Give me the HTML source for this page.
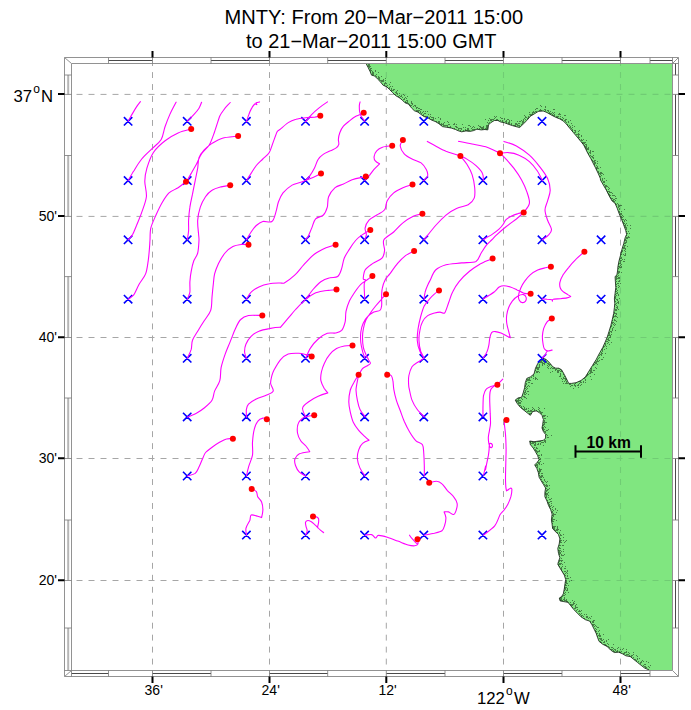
<!DOCTYPE html><html><head><meta charset="utf-8"><title>MNTY trajectories</title>
<style>html,body{margin:0;padding:0;background:#fff}body{width:691px;height:710px;overflow:hidden}svg{display:block}text{font-family:"Liberation Sans",sans-serif;fill:#000}</style></head><body>
<svg width="691" height="710" viewBox="0 0 691 710">
<rect width="691" height="710" fill="#fff"/>
<defs><clipPath id="lc"><path d="M366.1 63.5 L366.1 63.6 L368 67.2 L370.1 71.6 L371.6 75.2 L374.5 75.9 L377.4 78.8 L380.3 81.7 L383.2 85.3 L386.8 86.8 L389.7 89.7 L392.6 92.6 L395.5 95.5 L399.1 97.6 L402 99.8 L404.9 102.7 L408.5 104.1 L411.4 107.8 L414.3 110.7 L417.9 112.1 L420.8 114.3 L423.7 116.4 L428 117.9 L431.6 120.1 L435.3 121.5 L438.9 123.7 L442.5 126.6 L446.8 127.3 L451.2 128 L455.5 129.5 L458.1 130.7 L461.7 131.8 L466 130.9 L469.7 131.4 L473.3 130.7 L476.9 129.2 L481.2 129.9 L484.9 129.5 L487.8 129.9 L488.5 124.9 L490.7 122.7 L494.3 120.5 L497.9 120.5 L500.8 122 L504.4 122.7 L508 124.1 L512.4 125.6 L516 126.6 L519.6 127.5 L523.2 124.1 L526.8 120.5 L530.4 116.2 L534.1 114 L537.7 111.8 L538.8 111.3 L543.2 111 L546.8 112.4 L551.1 114.9 L555.5 117.2 L559.8 118.9 L563.4 121.1 L566.3 124 L569.9 128.4 L573.5 132.7 L577.2 137 L580.8 141.4 L583.7 145 L585.8 149.3 L588 153.7 L590.9 158.7 L593.1 163.1 L595.3 167.4 L598.1 173.2 L600.3 178.3 L600.5 180 L603.4 185.1 L606.3 190.1 L609.2 195.9 L612.1 201 L615 203.2 L617.2 208.2 L619.3 214 L621.5 219.1 L623.7 224.9 L625.8 230.7 L626.6 234.3 L625.1 237.9 L623.7 243.7 L621.9 249.5 L620.5 255.3 L619 261 L617.9 266.8 L617.7 270 L616.9 275.1 L615.1 276.5 L615.4 281.6 L615.8 287.4 L615.1 293.2 L614.4 298.9 L614.8 303.3 L614.4 307.6 L613.7 313.4 L612.2 319.9 L610.8 325.7 L609 331.5 L607.2 337.3 L605 342.4 L602.8 347.4 L599.9 352.5 L596.2 359.5 L592.6 365.3 L589 371.1 L585.4 376.9 L581 380.5 L576 382.7 L571.6 383.4 L568.7 383.4 L566.6 379.1 L564.4 374.7 L561.5 369.7 L558.6 368.2 L555.7 368.2 L552.8 366.8 L549.9 363.2 L546.3 359.5 L542.7 358.1 L539.8 360.3 L537.6 363.9 L535.5 368.2 L534 374 L530.4 376.9 L526.8 378.4 L525.3 382.7 L524.6 387.8 L523.2 392.8 L521.7 397.2 L518.1 397.9 L515.2 400.1 L517.4 403.7 L520.3 407.3 L523.9 410.2 L527.5 413.1 L530.4 415.3 L532.6 411.6 L536.2 410.9 L539.1 412.4 L542 415.3 L543.4 419.6 L542.7 424.3 L542 428 L543.4 431.6 L545.6 434.5 L545.6 438.1 L543.4 440.3 L539.1 441 L534 441.7 L529.7 441 L530.4 444.6 L533.3 448.2 L535.5 451.8 L537.6 455.5 L539.1 459.8 L536.9 462.7 L534.7 464.9 L536.9 468.5 L538.4 472.8 L539.1 477.2 L541.2 480.8 L543.4 484.4 L545.6 488 L544.9 492.4 L544.9 496.7 L547 501 L548.5 505.4 L550.7 509.7 L552.1 514.1 L551.4 520 L552 523.7 L552.7 528.8 L555.6 531.7 L558.5 534.6 L559.9 538.9 L559.2 544 L557.8 548.4 L558.5 553.4 L559.9 557.8 L558.5 561.4 L557.8 564.3 L559.9 567.9 L562.1 571.5 L564.3 575.1 L565.7 579.5 L565 583.8 L564.3 588.9 L563.3 593.9 L561.4 596.8 L559.3 598 L560.1 600.9 L563.7 601.6 L568 602.3 L570.9 605.9 L573.8 609.5 L577.4 613.2 L581 616.8 L585.4 619.7 L589.7 621.1 L591.9 624.7 L594.1 629.1 L596.2 633.4 L597.7 637.8 L599.1 641.4 L602.8 644.3 L607.1 646.4 L610.7 650.1 L614.3 652.5 L618.7 652.2 L622.3 653.7 L625.9 655.8 L630.3 656.6 L633.9 659.5 L637.5 662.4 L641.1 665.3 L644.7 668.1 L649.1 669.9 L650.6 670.5 L672.5 670.5 L672.5 63.5Z"/></clipPath><clipPath id="pc"><rect x="71.5" y="63.5" width="601" height="607"/></clipPath></defs>
<path d="M152.5 676.5 V57.5M269.5 676.5 V57.5M386.3 676.5 V57.5M503.5 676.5 V57.5M620.5 676.5 V57.5" fill="none" stroke="#a6a6a6" stroke-width="1" stroke-dasharray="5.9 6.07"/><path d="M64.5 94.4 H678.5M64.5 216.4 H678.5M64.5 337.5 H678.5M64.5 458.5 H678.5M64.5 580.5 H678.5" fill="none" stroke="#a6a6a6" stroke-width="1" stroke-dasharray="6 6"/>
<path d="M366.1 63.5 L366.1 63.6 L368 67.2 L370.1 71.6 L371.6 75.2 L374.5 75.9 L377.4 78.8 L380.3 81.7 L383.2 85.3 L386.8 86.8 L389.7 89.7 L392.6 92.6 L395.5 95.5 L399.1 97.6 L402 99.8 L404.9 102.7 L408.5 104.1 L411.4 107.8 L414.3 110.7 L417.9 112.1 L420.8 114.3 L423.7 116.4 L428 117.9 L431.6 120.1 L435.3 121.5 L438.9 123.7 L442.5 126.6 L446.8 127.3 L451.2 128 L455.5 129.5 L458.1 130.7 L461.7 131.8 L466 130.9 L469.7 131.4 L473.3 130.7 L476.9 129.2 L481.2 129.9 L484.9 129.5 L487.8 129.9 L488.5 124.9 L490.7 122.7 L494.3 120.5 L497.9 120.5 L500.8 122 L504.4 122.7 L508 124.1 L512.4 125.6 L516 126.6 L519.6 127.5 L523.2 124.1 L526.8 120.5 L530.4 116.2 L534.1 114 L537.7 111.8 L538.8 111.3 L543.2 111 L546.8 112.4 L551.1 114.9 L555.5 117.2 L559.8 118.9 L563.4 121.1 L566.3 124 L569.9 128.4 L573.5 132.7 L577.2 137 L580.8 141.4 L583.7 145 L585.8 149.3 L588 153.7 L590.9 158.7 L593.1 163.1 L595.3 167.4 L598.1 173.2 L600.3 178.3 L600.5 180 L603.4 185.1 L606.3 190.1 L609.2 195.9 L612.1 201 L615 203.2 L617.2 208.2 L619.3 214 L621.5 219.1 L623.7 224.9 L625.8 230.7 L626.6 234.3 L625.1 237.9 L623.7 243.7 L621.9 249.5 L620.5 255.3 L619 261 L617.9 266.8 L617.7 270 L616.9 275.1 L615.1 276.5 L615.4 281.6 L615.8 287.4 L615.1 293.2 L614.4 298.9 L614.8 303.3 L614.4 307.6 L613.7 313.4 L612.2 319.9 L610.8 325.7 L609 331.5 L607.2 337.3 L605 342.4 L602.8 347.4 L599.9 352.5 L596.2 359.5 L592.6 365.3 L589 371.1 L585.4 376.9 L581 380.5 L576 382.7 L571.6 383.4 L568.7 383.4 L566.6 379.1 L564.4 374.7 L561.5 369.7 L558.6 368.2 L555.7 368.2 L552.8 366.8 L549.9 363.2 L546.3 359.5 L542.7 358.1 L539.8 360.3 L537.6 363.9 L535.5 368.2 L534 374 L530.4 376.9 L526.8 378.4 L525.3 382.7 L524.6 387.8 L523.2 392.8 L521.7 397.2 L518.1 397.9 L515.2 400.1 L517.4 403.7 L520.3 407.3 L523.9 410.2 L527.5 413.1 L530.4 415.3 L532.6 411.6 L536.2 410.9 L539.1 412.4 L542 415.3 L543.4 419.6 L542.7 424.3 L542 428 L543.4 431.6 L545.6 434.5 L545.6 438.1 L543.4 440.3 L539.1 441 L534 441.7 L529.7 441 L530.4 444.6 L533.3 448.2 L535.5 451.8 L537.6 455.5 L539.1 459.8 L536.9 462.7 L534.7 464.9 L536.9 468.5 L538.4 472.8 L539.1 477.2 L541.2 480.8 L543.4 484.4 L545.6 488 L544.9 492.4 L544.9 496.7 L547 501 L548.5 505.4 L550.7 509.7 L552.1 514.1 L551.4 520 L552 523.7 L552.7 528.8 L555.6 531.7 L558.5 534.6 L559.9 538.9 L559.2 544 L557.8 548.4 L558.5 553.4 L559.9 557.8 L558.5 561.4 L557.8 564.3 L559.9 567.9 L562.1 571.5 L564.3 575.1 L565.7 579.5 L565 583.8 L564.3 588.9 L563.3 593.9 L561.4 596.8 L559.3 598 L560.1 600.9 L563.7 601.6 L568 602.3 L570.9 605.9 L573.8 609.5 L577.4 613.2 L581 616.8 L585.4 619.7 L589.7 621.1 L591.9 624.7 L594.1 629.1 L596.2 633.4 L597.7 637.8 L599.1 641.4 L602.8 644.3 L607.1 646.4 L610.7 650.1 L614.3 652.5 L618.7 652.2 L622.3 653.7 L625.9 655.8 L630.3 656.6 L633.9 659.5 L637.5 662.4 L641.1 665.3 L644.7 668.1 L649.1 669.9 L650.6 670.5 L672.5 670.5 L672.5 63.5Z" fill="#80e680"/>
<path d="M152.5 676.5 V57.5M269.5 676.5 V57.5M386.3 676.5 V57.5M503.5 676.5 V57.5M620.5 676.5 V57.5" fill="none" stroke="#70cc74" stroke-width="1.1" stroke-dasharray="5.9 6.07" clip-path="url(#lc)"/><path d="M64.5 94.4 H678.5M64.5 216.4 H678.5M64.5 337.5 H678.5M64.5 458.5 H678.5M64.5 580.5 H678.5" fill="none" stroke="#70cc74" stroke-width="1.1" stroke-dasharray="6 6" clip-path="url(#lc)"/>
<path d="M366.1 63.6 L368 67.2 L370.1 71.6 L371.6 75.2 L374.5 75.9 L377.4 78.8 L380.3 81.7 L383.2 85.3 L386.8 86.8 L389.7 89.7 L392.6 92.6 L395.5 95.5 L399.1 97.6 L402 99.8 L404.9 102.7 L408.5 104.1 L411.4 107.8 L414.3 110.7 L417.9 112.1 L420.8 114.3 L423.7 116.4 L428 117.9 L431.6 120.1 L435.3 121.5 L438.9 123.7 L442.5 126.6 L446.8 127.3 L451.2 128 L455.5 129.5 L458.1 130.7 L461.7 131.8 L466 130.9 L469.7 131.4 L473.3 130.7 L476.9 129.2 L481.2 129.9 L484.9 129.5 L487.8 129.9 L488.5 124.9 L490.7 122.7 L494.3 120.5 L497.9 120.5 L500.8 122 L504.4 122.7 L508 124.1 L512.4 125.6 L516 126.6 L519.6 127.5 L523.2 124.1 L526.8 120.5 L530.4 116.2 L534.1 114 L537.7 111.8 L538.8 111.3 L543.2 111 L546.8 112.4 L551.1 114.9 L555.5 117.2 L559.8 118.9 L563.4 121.1 L566.3 124 L569.9 128.4 L573.5 132.7 L577.2 137 L580.8 141.4 L583.7 145 L585.8 149.3 L588 153.7 L590.9 158.7 L593.1 163.1 L595.3 167.4 L598.1 173.2 L600.3 178.3 L600.5 180 L603.4 185.1 L606.3 190.1 L609.2 195.9 L612.1 201 L615 203.2 L617.2 208.2 L619.3 214 L621.5 219.1 L623.7 224.9 L625.8 230.7 L626.6 234.3 L625.1 237.9 L623.7 243.7 L621.9 249.5 L620.5 255.3 L619 261 L617.9 266.8 L617.7 270 L616.9 275.1 L615.1 276.5 L615.4 281.6 L615.8 287.4 L615.1 293.2 L614.4 298.9 L614.8 303.3 L614.4 307.6 L613.7 313.4 L612.2 319.9 L610.8 325.7 L609 331.5 L607.2 337.3 L605 342.4 L602.8 347.4 L599.9 352.5 L596.2 359.5 L592.6 365.3 L589 371.1 L585.4 376.9 L581 380.5 L576 382.7 L571.6 383.4 L568.7 383.4 L566.6 379.1 L564.4 374.7 L561.5 369.7 L558.6 368.2 L555.7 368.2 L552.8 366.8 L549.9 363.2 L546.3 359.5 L542.7 358.1 L539.8 360.3 L537.6 363.9 L535.5 368.2 L534 374 L530.4 376.9 L526.8 378.4 L525.3 382.7 L524.6 387.8 L523.2 392.8 L521.7 397.2 L518.1 397.9 L515.2 400.1 L517.4 403.7 L520.3 407.3 L523.9 410.2 L527.5 413.1 L530.4 415.3 L532.6 411.6 L536.2 410.9 L539.1 412.4 L542 415.3 L543.4 419.6 L542.7 424.3 L542 428 L543.4 431.6 L545.6 434.5 L545.6 438.1 L543.4 440.3 L539.1 441 L534 441.7 L529.7 441 L530.4 444.6 L533.3 448.2 L535.5 451.8 L537.6 455.5 L539.1 459.8 L536.9 462.7 L534.7 464.9 L536.9 468.5 L538.4 472.8 L539.1 477.2 L541.2 480.8 L543.4 484.4 L545.6 488 L544.9 492.4 L544.9 496.7 L547 501 L548.5 505.4 L550.7 509.7 L552.1 514.1 L551.4 520 L552 523.7 L552.7 528.8 L555.6 531.7 L558.5 534.6 L559.9 538.9 L559.2 544 L557.8 548.4 L558.5 553.4 L559.9 557.8 L558.5 561.4 L557.8 564.3 L559.9 567.9 L562.1 571.5 L564.3 575.1 L565.7 579.5 L565 583.8 L564.3 588.9 L563.3 593.9 L561.4 596.8 L559.3 598 L560.1 600.9 L563.7 601.6 L568 602.3 L570.9 605.9 L573.8 609.5 L577.4 613.2 L581 616.8 L585.4 619.7 L589.7 621.1 L591.9 624.7 L594.1 629.1 L596.2 633.4 L597.7 637.8 L599.1 641.4 L602.8 644.3 L607.1 646.4 L610.7 650.1 L614.3 652.5 L618.7 652.2 L622.3 653.7 L625.9 655.8 L630.3 656.6 L633.9 659.5 L637.5 662.4 L641.1 665.3 L644.7 668.1 L649.1 669.9" fill="none" stroke="#142214" stroke-width="0.85" stroke-linejoin="round"/>
<path d="M367 63.5h1M368 64.5h1M368 65.5h1M368 66.5h1M369 64.5h1M369 65.5h1M369 66.5h1M369 67.5h1M370 66.5h1M370 68.5h1M370 69.5h1M370 70.5h1M370 71.5h1M371 68.5h1M371 70.5h1M372 71.5h1M372 72.5h1M372 73.5h1M372 74.5h1M373 72.5h1M373 73.5h1M373 74.5h1M375 70.5h1M375 71.5h1M375 75.5h1M376 74.5h1M376 76.5h1M378 72.5h1M378 76.5h1M378 77.5h1M378 78.5h1M379 77.5h1M379 78.5h1M379 79.5h1M380 80.5h1M381 76.5h1M381 80.5h1M381 81.5h1M382 80.5h1M382 81.5h1M383 79.5h1M383 80.5h1M383 81.5h1M384 83.5h1M384 84.5h1M384 85.5h1M385 78.5h1M385 80.5h1M385 82.5h1M385 83.5h1M386 83.5h1M386 86.5h1M387 85.5h1M389 84.5h1M389 87.5h1M389 88.5h1M390 82.5h1M390 86.5h1M391 88.5h1M391 89.5h1M391 90.5h1M392 86.5h1M392 90.5h1M393 89.5h1M393 90.5h1M394 89.5h1M395 92.5h1M395 94.5h1M396 91.5h1M396 92.5h1M396 93.5h1M397 90.5h1M397 93.5h1M397 94.5h1M398 96.5h1M399 93.5h1M399 95.5h1M399 97.5h1M400 96.5h1M401 95.5h1M401 96.5h1M402 97.5h1M403 94.5h1M403 99.5h1M404 95.5h1M404 98.5h1M404 99.5h1M405 97.5h1M405 101.5h1M405 102.5h1M406 98.5h1M406 100.5h1M406 102.5h1M407 96.5h1M407 100.5h1M407 101.5h1M407 102.5h1M408 103.5h1M409 104.5h1M410 105.5h1M411 101.5h1M411 102.5h1M411 103.5h1M411 105.5h1M412 103.5h1M412 104.5h1M413 106.5h1M414 105.5h1M415 105.5h1M415 106.5h1M416 107.5h1M416 108.5h1M416 110.5h1M417 107.5h1M417 110.5h1M417 111.5h1M418 108.5h1M418 110.5h1M418 111.5h1M419 108.5h1M419 110.5h1M420 109.5h1M420 111.5h1M420 112.5h1M421 109.5h1M421 113.5h1M422 112.5h1M423 111.5h1M423 114.5h1M423 115.5h1M424 113.5h1M425 111.5h1M425 113.5h1M425 116.5h1M426 116.5h1M427 111.5h1M427 116.5h1M428 114.5h1M429 117.5h1M429 118.5h1M430 114.5h1M430 116.5h1M431 117.5h1M431 119.5h1M432 117.5h1M432 119.5h1M433 117.5h1M433 118.5h1M433 119.5h1M435 118.5h1M435 121.5h1M436 121.5h1M438 117.5h1M438 121.5h1M438 122.5h1M439 121.5h1M439 122.5h1M439 123.5h1M440 118.5h1M440 119.5h1M440 124.5h1M441 123.5h1M441 124.5h1M441 125.5h1M442 124.5h1M443 123.5h1M443 124.5h1M443 125.5h1M444 122.5h1M444 125.5h1M445 125.5h1M446 125.5h1M447 121.5h1M447 125.5h1M447 126.5h1M448 122.5h1M448 124.5h1M448 127.5h1M449 124.5h1M449 127.5h1M450 126.5h1M450 127.5h1M453 124.5h1M454 123.5h1M454 124.5h1M454 128.5h1M455 126.5h1M456 124.5h1M456 126.5h1M456 127.5h1M457 127.5h1M458 128.5h1M458 129.5h1M459 128.5h1M460 128.5h1M460 130.5h1M461 128.5h1M461 129.5h1M462 124.5h1M463 127.5h1M463 130.5h1M465 127.5h1M465 129.5h1M465 130.5h1M466 130.5h1M467 128.5h1M467 129.5h1M467 130.5h1M468 125.5h1M468 128.5h1M468 129.5h1M468 130.5h1M469 125.5h1M469 130.5h1M470 126.5h1M471 128.5h1M472 127.5h1M472 129.5h1M473 126.5h1M473 129.5h1M474 127.5h1M474 129.5h1M477 128.5h1M478 125.5h1M479 126.5h1M479 128.5h1M480 126.5h1M480 127.5h1M481 127.5h1M481 128.5h1M482 127.5h1M482 128.5h1M482 129.5h1M483 126.5h1M483 127.5h1M483 128.5h1M484 129.5h1M485 119.5h1M485 128.5h1M486 125.5h1M486 126.5h1M486 127.5h1M486 128.5h1M486 129.5h1M487 122.5h1M487 125.5h1M487 126.5h1M487 127.5h1M487 128.5h1M488 120.5h1M488 123.5h1M489 118.5h1M489 122.5h1M490 119.5h1M490 120.5h1M491 119.5h1M491 120.5h1M492 119.5h1M493 119.5h1M494 116.5h1M494 118.5h1M495 117.5h1M496 116.5h1M496 119.5h1M497 119.5h1M498 120.5h1M500 117.5h1M500 120.5h1M501 118.5h1M502 118.5h1M502 120.5h1M502 121.5h1M504 118.5h1M504 119.5h1M505 121.5h1M506 120.5h1M506 121.5h1M506 122.5h1M507 119.5h1M508 119.5h1M508 122.5h1M508 123.5h1M509 120.5h1M509 121.5h1M509 122.5h1M509 123.5h1M511 120.5h1M511 123.5h1M511 124.5h1M513 125.5h1M514 125.5h1M515 123.5h1M515 124.5h1M515 125.5h1M516 123.5h1M516 124.5h1M516 400.5h1M516 401.5h1M517 121.5h1M517 124.5h1M517 125.5h1M517 400.5h1M517 401.5h1M518 123.5h1M518 125.5h1M518 398.5h1M518 399.5h1M518 400.5h1M518 401.5h1M518 402.5h1M518 403.5h1M519 121.5h1M519 123.5h1M519 125.5h1M519 126.5h1M519 398.5h1M519 400.5h1M519 402.5h1M519 403.5h1M519 405.5h1M520 121.5h1M520 400.5h1M520 402.5h1M520 403.5h1M520 405.5h1M521 120.5h1M521 124.5h1M521 398.5h1M521 401.5h1M521 406.5h1M521 407.5h1M522 121.5h1M522 122.5h1M522 123.5h1M522 395.5h1M522 399.5h1M522 408.5h1M523 119.5h1M523 120.5h1M523 121.5h1M523 122.5h1M523 396.5h1M523 406.5h1M523 409.5h1M524 115.5h1M524 118.5h1M524 392.5h1M524 393.5h1M524 394.5h1M524 396.5h1M524 397.5h1M524 407.5h1M524 408.5h1M524 409.5h1M525 116.5h1M525 117.5h1M525 119.5h1M525 385.5h1M525 386.5h1M525 388.5h1M525 390.5h1M525 391.5h1M525 392.5h1M525 394.5h1M525 397.5h1M525 409.5h1M526 117.5h1M526 381.5h1M526 383.5h1M526 384.5h1M526 387.5h1M526 389.5h1M526 393.5h1M526 398.5h1M526 408.5h1M526 409.5h1M527 118.5h1M527 379.5h1M527 380.5h1M527 386.5h1M527 388.5h1M527 391.5h1M527 411.5h1M528 116.5h1M528 117.5h1M528 379.5h1M528 380.5h1M528 382.5h1M528 385.5h1M528 391.5h1M528 394.5h1M528 408.5h1M528 410.5h1M528 411.5h1M529 112.5h1M529 114.5h1M529 378.5h1M529 379.5h1M529 380.5h1M529 382.5h1M529 386.5h1M529 411.5h1M529 413.5h1M529 414.5h1M530 114.5h1M530 115.5h1M530 380.5h1M530 410.5h1M530 411.5h1M530 413.5h1M530 441.5h1M530 442.5h1M530 444.5h1M531 114.5h1M531 377.5h1M531 383.5h1M531 410.5h1M531 411.5h1M531 413.5h1M531 441.5h1M531 443.5h1M532 112.5h1M532 113.5h1M532 114.5h1M532 383.5h1M532 407.5h1M532 409.5h1M532 411.5h1M532 440.5h1M532 441.5h1M532 442.5h1M532 443.5h1M532 448.5h1M533 111.5h1M533 112.5h1M533 375.5h1M533 376.5h1M533 378.5h1M533 408.5h1M533 442.5h1M533 443.5h1M533 448.5h1M534 112.5h1M534 409.5h1M534 410.5h1M534 442.5h1M534 444.5h1M534 445.5h1M534 447.5h1M535 109.5h1M535 111.5h1M535 370.5h1M535 377.5h1M535 378.5h1M535 379.5h1M535 442.5h1M535 443.5h1M535 444.5h1M535 445.5h1M535 449.5h1M535 450.5h1M535 465.5h1M536 108.5h1M536 111.5h1M536 367.5h1M536 368.5h1M536 371.5h1M536 372.5h1M536 378.5h1M536 410.5h1M536 447.5h1M536 448.5h1M536 450.5h1M536 451.5h1M536 453.5h1M536 464.5h1M536 465.5h1M537 108.5h1M537 367.5h1M537 368.5h1M537 369.5h1M537 371.5h1M537 372.5h1M537 379.5h1M537 441.5h1M537 444.5h1M537 448.5h1M537 451.5h1M537 452.5h1M537 462.5h1M537 464.5h1M537 465.5h1M537 466.5h1M537 467.5h1M538 367.5h1M538 368.5h1M538 369.5h1M538 371.5h1M538 407.5h1M538 409.5h1M538 441.5h1M538 443.5h1M538 444.5h1M538 451.5h1M538 455.5h1M538 462.5h1M538 463.5h1M538 471.5h1M539 110.5h1M539 362.5h1M539 364.5h1M539 365.5h1M539 366.5h1M539 367.5h1M539 372.5h1M539 408.5h1M539 410.5h1M539 411.5h1M539 441.5h1M539 450.5h1M539 451.5h1M539 455.5h1M539 457.5h1M539 459.5h1M539 462.5h1M539 463.5h1M539 464.5h1M539 468.5h1M539 469.5h1M539 470.5h1M539 471.5h1M539 472.5h1M539 473.5h1M539 475.5h1M540 105.5h1M540 109.5h1M540 110.5h1M540 361.5h1M540 362.5h1M540 411.5h1M540 412.5h1M540 441.5h1M540 443.5h1M540 444.5h1M540 458.5h1M540 459.5h1M540 461.5h1M540 469.5h1M540 470.5h1M540 471.5h1M540 476.5h1M540 477.5h1M541 106.5h1M541 110.5h1M541 360.5h1M541 361.5h1M541 362.5h1M541 412.5h1M541 413.5h1M541 442.5h1M541 454.5h1M541 455.5h1M541 464.5h1M541 469.5h1M541 473.5h1M541 475.5h1M541 476.5h1M541 477.5h1M541 479.5h1M542 359.5h1M542 360.5h1M542 362.5h1M542 363.5h1M542 364.5h1M542 365.5h1M542 412.5h1M542 427.5h1M542 428.5h1M542 442.5h1M542 473.5h1M542 475.5h1M542 476.5h1M542 481.5h1M543 358.5h1M543 361.5h1M543 363.5h1M543 415.5h1M543 416.5h1M543 422.5h1M543 424.5h1M543 425.5h1M543 427.5h1M543 428.5h1M543 429.5h1M543 430.5h1M543 442.5h1M543 445.5h1M543 463.5h1M543 477.5h1M543 482.5h1M544 109.5h1M544 361.5h1M544 362.5h1M544 363.5h1M544 364.5h1M544 408.5h1M544 415.5h1M544 416.5h1M544 418.5h1M544 420.5h1M544 421.5h1M544 422.5h1M544 423.5h1M544 424.5h1M544 426.5h1M544 429.5h1M544 431.5h1M544 440.5h1M544 441.5h1M544 479.5h1M544 480.5h1M544 484.5h1M545 106.5h1M545 107.5h1M545 109.5h1M545 110.5h1M545 359.5h1M545 360.5h1M545 362.5h1M545 415.5h1M545 418.5h1M545 422.5h1M545 427.5h1M545 431.5h1M545 432.5h1M545 440.5h1M545 441.5h1M545 442.5h1M545 481.5h1M545 485.5h1M545 492.5h1M545 493.5h1M545 494.5h1M545 497.5h1M546 112.5h1M546 361.5h1M546 362.5h1M546 422.5h1M546 430.5h1M546 434.5h1M546 482.5h1M546 484.5h1M546 485.5h1M546 486.5h1M546 488.5h1M546 490.5h1M546 491.5h1M546 493.5h1M546 494.5h1M546 495.5h1M546 496.5h1M546 497.5h1M547 110.5h1M547 363.5h1M547 365.5h1M547 367.5h1M547 416.5h1M547 430.5h1M547 435.5h1M547 437.5h1M547 481.5h1M547 485.5h1M547 486.5h1M547 489.5h1M547 490.5h1M547 493.5h1M547 494.5h1M547 500.5h1M548 110.5h1M548 111.5h1M548 363.5h1M548 364.5h1M548 366.5h1M548 368.5h1M548 429.5h1M548 437.5h1M548 489.5h1M548 492.5h1M548 495.5h1M548 497.5h1M548 502.5h1M548 503.5h1M549 112.5h1M549 113.5h1M549 364.5h1M549 365.5h1M549 485.5h1M549 488.5h1M549 499.5h1M549 502.5h1M549 504.5h1M549 505.5h1M549 506.5h1M550 111.5h1M550 113.5h1M550 364.5h1M550 368.5h1M550 372.5h1M550 499.5h1M550 501.5h1M550 506.5h1M550 508.5h1M551 113.5h1M551 367.5h1M551 435.5h1M551 498.5h1M551 501.5h1M551 503.5h1M551 505.5h1M552 112.5h1M552 114.5h1M552 368.5h1M552 371.5h1M552 507.5h1M552 509.5h1M552 511.5h1M552 512.5h1M552 515.5h1M552 517.5h1M552 518.5h1M552 519.5h1M552 520.5h1M552 521.5h1M552 523.5h1M552 527.5h1M553 109.5h1M553 113.5h1M553 115.5h1M553 368.5h1M553 506.5h1M553 510.5h1M553 513.5h1M553 514.5h1M553 515.5h1M553 516.5h1M553 519.5h1M553 521.5h1M553 526.5h1M553 527.5h1M553 528.5h1M554 109.5h1M554 112.5h1M554 114.5h1M554 115.5h1M554 368.5h1M554 514.5h1M554 519.5h1M554 526.5h1M554 527.5h1M554 528.5h1M554 529.5h1M555 369.5h1M555 370.5h1M555 508.5h1M555 509.5h1M555 514.5h1M555 526.5h1M555 530.5h1M555 531.5h1M556 116.5h1M556 369.5h1M556 512.5h1M556 520.5h1M556 529.5h1M556 530.5h1M557 116.5h1M557 117.5h1M557 370.5h1M557 371.5h1M557 372.5h1M557 510.5h1M557 526.5h1M557 527.5h1M557 528.5h1M557 529.5h1M557 530.5h1M557 532.5h1M558 114.5h1M558 116.5h1M558 368.5h1M558 370.5h1M558 371.5h1M558 372.5h1M558 529.5h1M558 550.5h1M558 562.5h1M558 564.5h1M559 113.5h1M559 114.5h1M559 370.5h1M559 376.5h1M559 532.5h1M559 533.5h1M559 545.5h1M559 547.5h1M559 548.5h1M559 550.5h1M559 551.5h1M559 552.5h1M559 553.5h1M559 554.5h1M559 560.5h1M559 561.5h1M559 563.5h1M559 564.5h1M559 566.5h1M560 114.5h1M560 116.5h1M560 118.5h1M560 369.5h1M560 371.5h1M560 373.5h1M560 374.5h1M560 375.5h1M560 376.5h1M560 530.5h1M560 534.5h1M560 535.5h1M560 538.5h1M560 540.5h1M560 541.5h1M560 542.5h1M560 545.5h1M560 548.5h1M560 550.5h1M560 552.5h1M560 553.5h1M560 560.5h1M560 563.5h1M560 564.5h1M560 597.5h1M560 598.5h1M560 599.5h1M560 600.5h1M561 119.5h1M561 370.5h1M561 371.5h1M561 378.5h1M561 535.5h1M561 540.5h1M561 542.5h1M561 551.5h1M561 554.5h1M561 555.5h1M561 558.5h1M561 560.5h1M561 561.5h1M561 563.5h1M561 567.5h1M561 568.5h1M561 569.5h1M561 597.5h1M561 598.5h1M561 599.5h1M561 600.5h1M562 117.5h1M562 119.5h1M562 379.5h1M562 381.5h1M562 545.5h1M562 555.5h1M562 560.5h1M562 564.5h1M562 566.5h1M562 571.5h1M562 596.5h1M562 600.5h1M563 118.5h1M563 374.5h1M563 377.5h1M563 378.5h1M563 383.5h1M563 534.5h1M563 537.5h1M563 540.5h1M563 545.5h1M563 549.5h1M563 551.5h1M563 555.5h1M563 573.5h1M563 595.5h1M563 599.5h1M563 601.5h1M564 115.5h1M564 120.5h1M564 376.5h1M564 378.5h1M564 381.5h1M564 542.5h1M564 554.5h1M564 562.5h1M564 568.5h1M564 571.5h1M564 574.5h1M564 588.5h1M564 590.5h1M564 593.5h1M564 595.5h1M564 597.5h1M564 598.5h1M564 599.5h1M564 600.5h1M565 115.5h1M565 119.5h1M565 120.5h1M565 121.5h1M565 378.5h1M565 379.5h1M565 380.5h1M565 383.5h1M565 541.5h1M565 566.5h1M565 568.5h1M565 571.5h1M565 573.5h1M565 575.5h1M565 582.5h1M565 584.5h1M565 585.5h1M565 587.5h1M565 588.5h1M565 589.5h1M565 592.5h1M565 594.5h1M565 600.5h1M566 119.5h1M566 122.5h1M566 379.5h1M566 381.5h1M566 382.5h1M566 383.5h1M566 540.5h1M566 572.5h1M566 578.5h1M566 580.5h1M566 581.5h1M566 582.5h1M566 583.5h1M566 585.5h1M566 587.5h1M566 590.5h1M566 599.5h1M566 600.5h1M566 601.5h1M567 124.5h1M567 383.5h1M567 570.5h1M567 571.5h1M567 573.5h1M567 575.5h1M567 576.5h1M567 578.5h1M567 583.5h1M567 588.5h1M567 589.5h1M567 590.5h1M567 601.5h1M568 121.5h1M568 122.5h1M568 126.5h1M568 578.5h1M568 585.5h1M568 592.5h1M568 602.5h1M569 125.5h1M569 384.5h1M569 581.5h1M570 120.5h1M570 126.5h1M570 127.5h1M570 384.5h1M570 386.5h1M570 577.5h1M570 602.5h1M570 604.5h1M571 123.5h1M571 128.5h1M571 385.5h1M571 580.5h1M571 604.5h1M571 605.5h1M572 125.5h1M572 127.5h1M572 129.5h1M572 130.5h1M572 385.5h1M572 600.5h1M572 604.5h1M572 605.5h1M572 607.5h1M573 388.5h1M573 602.5h1M573 603.5h1M573 604.5h1M574 126.5h1M574 130.5h1M574 132.5h1M574 384.5h1M574 385.5h1M574 601.5h1M574 603.5h1M574 608.5h1M575 130.5h1M575 131.5h1M575 132.5h1M575 383.5h1M575 385.5h1M575 386.5h1M575 605.5h1M575 606.5h1M575 607.5h1M575 608.5h1M576 134.5h1M576 604.5h1M576 607.5h1M576 610.5h1M577 134.5h1M577 385.5h1M577 607.5h1M577 609.5h1M578 131.5h1M578 133.5h1M578 134.5h1M578 135.5h1M578 136.5h1M578 137.5h1M578 384.5h1M578 385.5h1M578 387.5h1M578 611.5h1M579 130.5h1M579 134.5h1M579 137.5h1M579 139.5h1M579 381.5h1M579 383.5h1M579 610.5h1M579 611.5h1M579 613.5h1M580 381.5h1M580 382.5h1M580 385.5h1M580 611.5h1M580 614.5h1M581 135.5h1M581 136.5h1M581 139.5h1M581 140.5h1M581 382.5h1M581 384.5h1M581 610.5h1M581 613.5h1M581 615.5h1M581 616.5h1M582 140.5h1M582 142.5h1M582 143.5h1M582 615.5h1M583 139.5h1M583 142.5h1M583 143.5h1M583 381.5h1M583 382.5h1M583 616.5h1M584 142.5h1M584 143.5h1M584 145.5h1M584 378.5h1M584 614.5h1M584 618.5h1M585 142.5h1M585 144.5h1M585 146.5h1M585 147.5h1M585 377.5h1M585 379.5h1M585 380.5h1M585 382.5h1M586 140.5h1M586 144.5h1M586 145.5h1M586 146.5h1M586 147.5h1M586 148.5h1M586 149.5h1M586 375.5h1M586 376.5h1M586 614.5h1M586 616.5h1M586 617.5h1M587 148.5h1M587 149.5h1M587 374.5h1M587 375.5h1M587 616.5h1M587 617.5h1M588 147.5h1M588 148.5h1M588 149.5h1M588 153.5h1M588 374.5h1M588 618.5h1M589 152.5h1M589 373.5h1M589 617.5h1M590 150.5h1M590 151.5h1M590 152.5h1M590 153.5h1M590 155.5h1M590 370.5h1M590 371.5h1M590 372.5h1M590 373.5h1M590 376.5h1M590 618.5h1M590 621.5h1M591 156.5h1M591 159.5h1M591 368.5h1M591 369.5h1M591 370.5h1M591 371.5h1M591 372.5h1M591 379.5h1M591 616.5h1M592 151.5h1M592 156.5h1M592 157.5h1M592 160.5h1M592 372.5h1M592 621.5h1M592 622.5h1M592 624.5h1M593 151.5h1M593 155.5h1M593 157.5h1M593 158.5h1M593 161.5h1M593 364.5h1M593 365.5h1M593 370.5h1M593 620.5h1M593 621.5h1M593 622.5h1M593 624.5h1M593 625.5h1M594 160.5h1M594 161.5h1M594 162.5h1M594 163.5h1M594 164.5h1M594 362.5h1M594 364.5h1M594 370.5h1M594 374.5h1M594 620.5h1M594 624.5h1M594 626.5h1M595 160.5h1M595 162.5h1M595 163.5h1M595 362.5h1M595 363.5h1M595 367.5h1M595 625.5h1M595 628.5h1M595 630.5h1M595 631.5h1M596 165.5h1M596 167.5h1M596 168.5h1M596 169.5h1M596 361.5h1M596 362.5h1M596 363.5h1M596 368.5h1M596 626.5h1M596 629.5h1M596 631.5h1M596 633.5h1M597 161.5h1M597 163.5h1M597 166.5h1M597 167.5h1M597 168.5h1M597 359.5h1M597 360.5h1M597 361.5h1M597 364.5h1M597 627.5h1M597 633.5h1M597 636.5h1M598 168.5h1M598 171.5h1M598 172.5h1M598 358.5h1M598 361.5h1M598 627.5h1M598 631.5h1M598 635.5h1M599 173.5h1M599 355.5h1M599 357.5h1M599 360.5h1M599 630.5h1M599 633.5h1M599 634.5h1M599 635.5h1M599 636.5h1M599 638.5h1M600 167.5h1M600 172.5h1M600 173.5h1M600 174.5h1M600 176.5h1M600 354.5h1M600 635.5h1M600 636.5h1M600 638.5h1M600 639.5h1M600 641.5h1M601 172.5h1M601 173.5h1M601 175.5h1M601 352.5h1M601 353.5h1M601 354.5h1M601 355.5h1M601 359.5h1M601 638.5h1M601 639.5h1M601 640.5h1M601 642.5h1M602 173.5h1M602 178.5h1M602 179.5h1M602 180.5h1M602 348.5h1M602 349.5h1M602 350.5h1M602 351.5h1M602 353.5h1M602 359.5h1M602 640.5h1M603 174.5h1M603 181.5h1M603 182.5h1M603 346.5h1M603 347.5h1M603 357.5h1M603 634.5h1M603 639.5h1M603 642.5h1M604 178.5h1M604 181.5h1M604 182.5h1M604 184.5h1M604 346.5h1M604 349.5h1M604 641.5h1M604 642.5h1M604 644.5h1M605 185.5h1M605 186.5h1M605 187.5h1M605 343.5h1M605 344.5h1M605 345.5h1M605 353.5h1M605 644.5h1M605 645.5h1M606 180.5h1M606 185.5h1M606 186.5h1M606 189.5h1M606 341.5h1M606 346.5h1M606 348.5h1M606 640.5h1M606 641.5h1M606 645.5h1M607 186.5h1M607 191.5h1M607 339.5h1M607 341.5h1M607 343.5h1M607 643.5h1M607 646.5h1M608 187.5h1M608 189.5h1M608 191.5h1M608 193.5h1M608 335.5h1M608 338.5h1M608 339.5h1M608 340.5h1M608 342.5h1M608 639.5h1M608 644.5h1M608 646.5h1M609 188.5h1M609 191.5h1M609 192.5h1M609 194.5h1M609 195.5h1M609 332.5h1M609 333.5h1M609 334.5h1M609 335.5h1M609 337.5h1M609 340.5h1M609 344.5h1M609 647.5h1M610 192.5h1M610 195.5h1M610 197.5h1M610 327.5h1M610 331.5h1M610 335.5h1M610 336.5h1M610 337.5h1M610 649.5h1M611 192.5h1M611 198.5h1M611 325.5h1M611 326.5h1M611 331.5h1M611 332.5h1M611 334.5h1M611 342.5h1M611 647.5h1M611 649.5h1M612 193.5h1M612 195.5h1M612 198.5h1M612 200.5h1M612 320.5h1M612 322.5h1M612 323.5h1M612 328.5h1M612 329.5h1M612 330.5h1M612 647.5h1M612 649.5h1M613 195.5h1M613 199.5h1M613 200.5h1M613 201.5h1M613 314.5h1M613 315.5h1M613 316.5h1M613 317.5h1M613 322.5h1M613 324.5h1M613 327.5h1M613 644.5h1M613 648.5h1M613 650.5h1M613 651.5h1M614 195.5h1M614 199.5h1M614 201.5h1M614 312.5h1M614 313.5h1M614 316.5h1M614 319.5h1M614 320.5h1M614 323.5h1M614 325.5h1M614 649.5h1M614 651.5h1M615 196.5h1M615 198.5h1M615 200.5h1M615 203.5h1M615 291.5h1M615 294.5h1M615 296.5h1M615 297.5h1M615 298.5h1M615 301.5h1M615 304.5h1M615 309.5h1M615 310.5h1M615 313.5h1M615 315.5h1M615 316.5h1M615 320.5h1M615 324.5h1M615 330.5h1M615 649.5h1M615 650.5h1M616 198.5h1M616 204.5h1M616 276.5h1M616 277.5h1M616 278.5h1M616 279.5h1M616 281.5h1M616 284.5h1M616 286.5h1M616 288.5h1M616 289.5h1M616 291.5h1M616 293.5h1M616 295.5h1M616 299.5h1M616 303.5h1M616 305.5h1M616 307.5h1M616 309.5h1M616 310.5h1M616 313.5h1M616 314.5h1M616 316.5h1M616 321.5h1M616 651.5h1M617 203.5h1M617 276.5h1M617 278.5h1M617 283.5h1M617 290.5h1M617 292.5h1M617 293.5h1M617 299.5h1M617 300.5h1M617 302.5h1M617 306.5h1M617 307.5h1M617 308.5h1M617 317.5h1M617 648.5h1M617 650.5h1M617 651.5h1M618 204.5h1M618 205.5h1M618 206.5h1M618 207.5h1M618 264.5h1M618 266.5h1M618 268.5h1M618 271.5h1M618 272.5h1M618 273.5h1M618 275.5h1M618 277.5h1M618 278.5h1M618 281.5h1M618 283.5h1M618 285.5h1M618 287.5h1M618 294.5h1M618 295.5h1M618 301.5h1M618 302.5h1M618 303.5h1M618 309.5h1M618 647.5h1M619 205.5h1M619 206.5h1M619 208.5h1M619 209.5h1M619 211.5h1M619 212.5h1M619 259.5h1M619 263.5h1M619 266.5h1M619 267.5h1M619 271.5h1M619 272.5h1M619 277.5h1M619 278.5h1M619 280.5h1M619 281.5h1M619 286.5h1M619 298.5h1M619 651.5h1M619 652.5h1M620 205.5h1M620 213.5h1M620 214.5h1M620 258.5h1M620 260.5h1M620 261.5h1M620 262.5h1M620 263.5h1M620 265.5h1M620 267.5h1M620 283.5h1M620 649.5h1M620 652.5h1M621 205.5h1M621 211.5h1M621 213.5h1M621 214.5h1M621 216.5h1M621 217.5h1M621 252.5h1M621 254.5h1M621 257.5h1M621 258.5h1M621 260.5h1M621 264.5h1M621 266.5h1M621 267.5h1M621 272.5h1M621 651.5h1M622 215.5h1M622 217.5h1M622 219.5h1M622 221.5h1M622 250.5h1M622 251.5h1M622 259.5h1M622 649.5h1M623 216.5h1M623 219.5h1M623 222.5h1M623 223.5h1M623 244.5h1M623 247.5h1M623 248.5h1M623 254.5h1M623 261.5h1M623 648.5h1M623 653.5h1M624 209.5h1M624 220.5h1M624 221.5h1M624 223.5h1M624 225.5h1M624 243.5h1M624 245.5h1M624 246.5h1M624 247.5h1M624 248.5h1M624 250.5h1M624 255.5h1M624 259.5h1M624 261.5h1M624 652.5h1M624 653.5h1M625 219.5h1M625 224.5h1M625 225.5h1M625 226.5h1M625 227.5h1M625 239.5h1M625 240.5h1M625 242.5h1M625 243.5h1M625 245.5h1M625 248.5h1M625 249.5h1M625 251.5h1M625 253.5h1M625 254.5h1M625 255.5h1M625 652.5h1M626 220.5h1M626 223.5h1M626 227.5h1M626 228.5h1M626 229.5h1M626 231.5h1M626 235.5h1M626 237.5h1M626 238.5h1M626 240.5h1M626 241.5h1M626 242.5h1M626 649.5h1M626 651.5h1M626 652.5h1M626 654.5h1M627 225.5h1M627 233.5h1M627 237.5h1M627 238.5h1M627 246.5h1M627 654.5h1M628 231.5h1M628 236.5h1M628 237.5h1M628 652.5h1M628 654.5h1M629 233.5h1M629 237.5h1M629 653.5h1M629 655.5h1M630 225.5h1M630 228.5h1M630 656.5h1M631 655.5h1M631 656.5h1M631 657.5h1M632 655.5h1M633 652.5h1M633 654.5h1M633 657.5h1M634 659.5h1M635 659.5h1M636 655.5h1M636 660.5h1M637 656.5h1M637 658.5h1M637 659.5h1M638 661.5h1M639 658.5h1M640 662.5h1M640 663.5h1M641 661.5h1M641 662.5h1M642 660.5h1M643 661.5h1M643 665.5h1M644 664.5h1M644 666.5h1M645 664.5h1M645 666.5h1M645 667.5h1M646 661.5h1M646 667.5h1M648 662.5h1M648 666.5h1M649 667.5h1M650 665.5h1" stroke="#0c1a0c" stroke-opacity="0.5" stroke-width="1" fill="none" clip-path="url(#lc)"/>
<path d="M123.9 117.1l8.4 8.4M123.9 125.5l8.4 -8.4M183 117.1l8.4 8.4M183 125.5l8.4 -8.4M242.2 117.1l8.4 8.4M242.2 125.5l8.4 -8.4M301.3 117.1l8.4 8.4M301.3 125.5l8.4 -8.4M360.4 117.1l8.4 8.4M360.4 125.5l8.4 -8.4M419.6 117.1l8.4 8.4M419.6 125.5l8.4 -8.4M537.8 117.1l8.4 8.4M537.8 125.5l8.4 -8.4M123.9 176.4l8.4 8.4M123.9 184.8l8.4 -8.4M183 176.4l8.4 8.4M183 184.8l8.4 -8.4M242.2 176.4l8.4 8.4M242.2 184.8l8.4 -8.4M301.3 176.4l8.4 8.4M301.3 184.8l8.4 -8.4M360.4 176.4l8.4 8.4M360.4 184.8l8.4 -8.4M419.6 176.4l8.4 8.4M419.6 184.8l8.4 -8.4M478.7 176.4l8.4 8.4M478.7 184.8l8.4 -8.4M537.8 176.4l8.4 8.4M537.8 184.8l8.4 -8.4M123.9 235.6l8.4 8.4M123.9 244l8.4 -8.4M183 235.6l8.4 8.4M183 244l8.4 -8.4M242.2 235.6l8.4 8.4M242.2 244l8.4 -8.4M301.3 235.6l8.4 8.4M301.3 244l8.4 -8.4M360.4 235.6l8.4 8.4M360.4 244l8.4 -8.4M419.6 235.6l8.4 8.4M419.6 244l8.4 -8.4M478.7 235.6l8.4 8.4M478.7 244l8.4 -8.4M537.8 235.6l8.4 8.4M537.8 244l8.4 -8.4M596.9 235.6l8.4 8.4M596.9 244l8.4 -8.4M123.9 295l8.4 8.4M123.9 303.4l8.4 -8.4M183 295l8.4 8.4M183 303.4l8.4 -8.4M242.2 295l8.4 8.4M242.2 303.4l8.4 -8.4M301.3 295l8.4 8.4M301.3 303.4l8.4 -8.4M360.4 295l8.4 8.4M360.4 303.4l8.4 -8.4M419.6 295l8.4 8.4M419.6 303.4l8.4 -8.4M478.7 295l8.4 8.4M478.7 303.4l8.4 -8.4M537.8 295l8.4 8.4M537.8 303.4l8.4 -8.4M596.9 295l8.4 8.4M596.9 303.4l8.4 -8.4M183 354.1l8.4 8.4M183 362.5l8.4 -8.4M242.2 354.1l8.4 8.4M242.2 362.5l8.4 -8.4M301.3 354.1l8.4 8.4M301.3 362.5l8.4 -8.4M360.4 354.1l8.4 8.4M360.4 362.5l8.4 -8.4M419.6 354.1l8.4 8.4M419.6 362.5l8.4 -8.4M478.7 354.1l8.4 8.4M478.7 362.5l8.4 -8.4M537.8 354.1l8.4 8.4M537.8 362.5l8.4 -8.4M183 412.7l8.4 8.4M183 421.1l8.4 -8.4M242.2 412.7l8.4 8.4M242.2 421.1l8.4 -8.4M301.3 412.7l8.4 8.4M301.3 421.1l8.4 -8.4M360.4 412.7l8.4 8.4M360.4 421.1l8.4 -8.4M419.6 412.7l8.4 8.4M419.6 421.1l8.4 -8.4M478.7 412.7l8.4 8.4M478.7 421.1l8.4 -8.4M183 471.8l8.4 8.4M183 480.2l8.4 -8.4M242.2 471.8l8.4 8.4M242.2 480.2l8.4 -8.4M301.3 471.8l8.4 8.4M301.3 480.2l8.4 -8.4M360.4 471.8l8.4 8.4M360.4 480.2l8.4 -8.4M419.6 471.8l8.4 8.4M419.6 480.2l8.4 -8.4M478.7 471.8l8.4 8.4M478.7 480.2l8.4 -8.4M242.2 530.9l8.4 8.4M242.2 539.3l8.4 -8.4M301.3 530.9l8.4 8.4M301.3 539.3l8.4 -8.4M360.4 530.9l8.4 8.4M360.4 539.3l8.4 -8.4M419.6 530.9l8.4 8.4M419.6 539.3l8.4 -8.4M478.7 530.9l8.4 8.4M478.7 539.3l8.4 -8.4M537.8 530.9l8.4 8.4M537.8 539.3l8.4 -8.4" stroke="#0000ff" stroke-width="1.6" fill="none"/>
<path d="M128.1 121.3C128.9 120 131.3 115.6 132.6 113.4C133.8 111.3 135.3 108.7 136.5 106.9C137.7 105.1 139.7 102.6 140.4 101.7M128.1 180.7C129.1 179 131.8 174 133.9 170.8C135.9 167.5 138.7 162.7 141.7 159C144.7 155.4 149.1 151.6 152.1 148.6C155.1 145.6 159 143.2 161.2 139.5C163.4 135.8 163.6 130.7 165.1 126.5C166.6 122.2 168.6 117.3 170.3 113.4C172.1 109.6 175.1 104.1 176.1 102.2M187.3 121.3C188.4 120.2 191.9 116.8 193.8 114.7C195.6 112.7 197.8 110.1 199 108.2C200.1 106.4 201.2 103.2 201.6 102.2M128.1 239.8C128.9 238.9 131.4 236.5 132.6 234.6C133.7 232.6 135.2 228.5 136.5 225.5C137.7 222.4 140.2 216.9 141.7 212.4C143.2 208 145.8 202 146.4 196.8C146.9 191.6 144.7 185.6 144.8 181.2C144.9 176.8 145.6 172.4 146.9 168.1C148.2 163.9 150.4 157.1 153.4 152.5C156.4 148 161.1 143.9 165.1 140.8C169.1 137.7 174 134.8 178.1 133C182.3 131.1 189 129.7 191.2 129.1M187.3 180.7C187.9 179.4 189.8 175.8 191.2 173.4C192.5 170.9 194.7 167.3 196.4 164.2C198 161.2 199.4 157.1 201.6 153.8C203.7 150.6 207.4 148.2 209.4 144.7C211.4 141.3 213 136.1 214.6 131.7C216.2 127.3 218.6 118.9 219.8 116C221.1 113.2 223.5 110.3 225 108.2C226.6 106.2 229.4 103.5 230.2 102.5M187.3 239.8C187.5 238.3 188.4 233.7 188.6 230.7C188.8 227.6 188.4 223.7 188.6 220.2C188.8 216.8 189.2 211.5 189.9 207.2C190.5 202.9 191.6 198.5 192.5 194.2C193.3 189.9 194.2 185.5 195.1 181.2C195.9 176.8 197.1 171.6 197.7 168.1C198.3 164.7 197.9 160.7 199 157.7C200 154.8 202.1 152.2 204.2 149.9C206.3 147.6 209.2 145.2 212 143.4C214.9 141.6 218.7 139.2 222.4 138.2C226.2 137.1 235.5 136.5 238.1 136.1M246.4 121.9C246.8 120.8 247.9 117 248.7 115C249.4 112.9 250.3 110.6 251.3 108.9C252.2 107.2 254.2 104.5 254.7 104C255.3 103.6 256.8 104.6 256.8 104.6C256.8 104.6 256.1 102.8 256.1 102.8C256.1 102.8 259 102.1 259.6 101.9M246.4 180.7C247.2 179.4 249.5 175.8 251.1 173.4C252.7 170.9 254.4 167.9 256.3 165.5C258.2 163.2 260.6 161.2 262.8 159C265 156.9 267.7 155.1 269.3 152.5C270.9 149.9 271.9 145.6 273.2 142.1C274.5 138.6 276.5 132.9 277.1 131.7C277.8 130.5 279.3 130 280.4 129.1C281.5 128.2 285.8 124.1 288.2 122.6C290.6 121 293.3 119.9 296 119.2C298.8 118.4 304.8 117.8 307.2 117.5C309.6 117.2 312.5 117.5 314.5 117.2C316.4 116.9 319.3 116 320.3 115.8M128.1 299.4C129.1 298.6 132.4 296.7 133.9 294.7C135.3 292.7 137.2 287.7 139.1 284.3C141 280.9 144.1 277.7 145.6 273.9C147.1 270 147.5 265.2 148.2 260.8C148.8 256.5 149.3 250.4 149.5 247.8C149.7 245.2 149.8 242.6 150 240C150.2 237.4 149.9 231.9 150.8 228.1C151.7 224.2 154.1 219.3 156 215C157.9 210.8 160.6 205.2 162.5 202C164.4 198.8 166.5 195.3 169 192.9C171.6 190.5 175.4 189.5 178.1 187.7C180.9 185.9 184.7 182.7 186 181.7M187.3 299.4C187.7 298.2 189.5 294.7 189.9 292.1C190.2 289.5 189.7 285.1 189.9 281.7C190.1 278.2 190.5 274.7 191.2 271.3C191.8 267.8 192.8 263.6 193.8 260.8C194.8 258.1 197 255.9 197.7 253C198.4 250.2 198.9 242.2 199 240C199.1 237.8 198.6 235.5 198.5 233.3C198.3 231 197.4 224.6 197.7 220.2C198 215.9 199.1 210.9 200.3 207.2C201.5 203.5 203.8 199.3 205.5 196.8C207.2 194.3 209.4 191.9 212 190.3C214.6 188.6 218.2 187.7 221.1 186.9C224.1 186.1 228.7 185.6 230.2 185.3M187.3 358.5C187.9 357 190.3 352.4 191.2 349.4C192 346.5 191.4 343.2 192.5 340.3C193.5 337.4 195.9 334.2 197.7 331.2C199.5 328.2 202 324.2 204.2 320.8C206.4 317.3 209.4 314.2 210.7 310.3C212 306.4 211.6 301.6 212 297.3C212.4 293 212.9 287.8 213.3 284.3C213.7 280.8 213.8 277.3 214.6 273.9C215.5 270.5 216.9 266.8 218.5 263.4C220.2 260.1 222.8 255.6 225 253C227.2 250.4 230.1 247.9 232.9 246.5C235.6 245.1 239.8 244.7 242 244.4C244.1 244.2 247.4 244.6 248.5 244.7M246.4 239.8C247.2 238.5 249.5 234.3 251.1 232C252.7 229.7 254.4 227.1 256.3 225.5C258.2 223.8 260.4 222.2 262.8 221.5C265.3 220.9 269.8 223.1 271.9 221.5C274.1 220 274.8 215.6 275.8 212.4C276.9 209.3 277.3 205.2 278.4 202C279.6 198.8 280.9 195.5 283 192.9C285.2 190.2 289.8 186.5 292.1 185.1C294.5 183.7 298.1 183.3 300 182.6C301.9 182 303.7 181.2 305.5 180.4C307.3 179.7 310.6 178.6 313 177.6C315.5 176.5 319.7 174.3 321 173.6M305.5 121.8C306.5 120.6 309.4 116.9 311.6 114.6C313.8 112.3 316.3 110.1 318.8 108.1C321.3 106.1 326 102.9 327.5 101.9M305.5 180.4C306.3 179.6 308.8 177.2 310.1 175.4C311.5 173.5 313.2 170.7 314.5 168.1C315.7 165.6 316.8 161.5 318.1 159.5C319.4 157.4 321.2 155.8 323.2 154.4C325.1 153 328.5 151.7 330.4 150.8C332.3 149.8 335 148.8 336.2 147.9C337.4 147 338.4 145.7 338.8 144.3C339.1 142.8 338.2 140.9 338.4 139.2C338.5 137.5 339 134.8 339.8 132.7C340.6 130.6 341.8 128.1 343.4 126.2C345 124.3 347.3 122.6 349.2 121.1C351.1 119.6 353.4 117.7 355 116.8C356.6 115.8 358.8 115.2 360.1 114.6C361.3 114 363.1 113 363.7 112.7M364.8 121.1C364.3 120.4 362.4 118.3 361.5 116.8C360.6 115.2 360 113.5 359.6 111.7C359.3 109.9 359.3 107.3 359.3 105.9C359.4 104.5 359.9 102.5 360.1 101.9M305.2 239.8C305.6 239.3 307.2 238.3 307.8 237.2C308.4 236.1 310.4 231.1 311.7 228.1C313 225 313.6 221.1 315.6 218.9C317.5 216.8 321.4 217 323.4 215C325.4 213.1 326.5 210 327.3 207.2C328.1 204.4 327.3 200.1 328.6 196.8C329.9 193.6 332.8 189.7 335.1 187.7C337.4 185.7 340.7 185.3 343.4 184.1C346.1 182.8 349.3 180.8 352.1 179.7C354.9 178.7 359.1 177.9 360.8 177.6C362.5 177.2 365 176.7 365.8 176.5M364.8 180.4C365.6 179.6 368 177.1 369.5 175.4C370.9 173.6 372.2 171.4 373.8 169.6C375.4 167.8 379.6 163.8 379.6 163.8C379.6 163.8 376.2 162.1 375.3 160.9C374.3 159.7 373.9 158.1 374.1 156.6C374.3 155.1 375.3 152.3 376.7 150.8C378.1 149.2 380.3 147.9 382.5 147.2C384.7 146.5 390.6 146 392.2 145.7M423.7 180.7C424.3 179.9 427.2 177.8 427.6 176C428 174.1 427.3 171.4 426.3 169.5C425.3 167.5 423.3 164.6 421.1 162.9C418.8 161.3 414.7 160.5 412 159C409.2 157.5 406.1 156 404.2 153.8C402.2 151.7 400.5 148.2 400.2 146C400 143.8 402.4 141 402.9 140M364.6 239.8C364.9 238.9 366.3 236.4 366.4 234.6C366.5 232.7 364.7 230.2 365.1 228.1C365.5 225.9 367 222.4 369 220.2C370.9 218.1 374.2 216.8 376.8 215C379.4 213.3 382.9 212.2 384.6 209.8C386.4 207.4 385.7 203.5 387.2 200.7C388.7 197.9 391.1 195.1 393.7 192.9C396.3 190.7 399.8 189.1 402.9 187.7C405.9 186.3 410.9 185.1 412.5 184.6M246.4 299.4C247.2 298.2 249 294.1 251.1 292.1C253.1 290.1 256.1 288.2 258.9 286.9C261.7 285.6 265.8 284.4 269.3 283.8C272.8 283.1 278.6 283.1 280 283C281.4 282.9 283.1 283.7 284.3 283C285.6 282.3 291.6 278.1 294.7 275.2C297.9 272.2 300.7 268.1 303.9 264.7C307 261.4 310.7 257 314.3 254.3C317.8 251.6 322.9 249.2 326 247.8C329.1 246.4 334 245.2 335.6 244.7M246.4 358.5C246.1 357.4 244.7 354.3 244.6 352C244.5 349.8 244.9 346.6 245.9 344.2C246.9 341.8 248.9 338.6 251.1 336.4C253.3 334.2 256 332.4 258.9 331.2C261.8 329.9 265.8 329.2 269.3 328.6C272.8 327.9 279.9 327.3 280 327.3C280.1 327.2 280.3 327.4 280.4 327.3C280.5 327.2 285.6 321.2 288.2 318.1C290.8 315.1 293.3 312 296 309C298.8 306.1 303 301.7 305.7 299.4C308.3 297.1 311.1 294.8 314.3 293.4C317.5 292 323.4 291.1 324.7 290.8C326 290.5 327.4 290.6 328.7 290.4C330 290.3 335.2 289.7 336.5 289.6M305.7 299.4C306.9 297.7 310.6 292.3 313 289.5C315.4 286.7 318.1 283.6 320.8 281.7C323.5 279.8 327.4 278.5 329.9 277.8C332.4 277 335.8 278 337.7 276.5C339.7 274.9 340.7 271.4 341.6 268.7C342.6 265.9 342.9 261.5 344.2 258.2C345.5 255 347.6 252.1 349.5 249.1C351.3 246.2 354.1 242.1 356 240C357.8 237.9 360.1 236.2 362.5 234.6C364.8 233 369 230.9 370.3 230.1M187.3 417.1C188.8 416.5 193.6 414.7 196.4 413.2C199.1 411.7 201.8 410 204.2 408C206.6 406 210.4 402.9 212 400.2C213.7 397.5 213.4 394 214.6 391.1C215.8 388.2 218.8 384.4 219.8 380.7C220.9 376.9 220.3 371.9 221.1 367.6C222 363.4 223.5 358.9 225 354.6C226.5 350.3 228.5 345.9 230.2 341.6C232 337.3 234 331.7 235.5 328.6C236.9 325.4 238.6 321.5 240.7 319.5C242.7 317.4 245.6 316.1 248.5 315.5C251.3 315 260 315.5 262.3 315.5M246.4 417.1C246.4 415.8 246.1 411.2 246.4 409.3C246.7 407.5 247.2 405.5 248.5 404.1C249.8 402.8 253.5 400.3 256.3 398.9C259.1 397.5 264.4 396.1 266.7 395C269 393.9 272.6 393 273.2 391.1C273.9 389.1 270.8 385.9 270.6 383.3C270.4 380.7 271.5 377.3 271.9 375.5C272.4 373.7 273 371.9 273.9 370.2C274.8 368.6 278.3 362.2 280.4 359.8C282.6 357.4 285.2 355.2 288.2 354.1C291.3 353 296.3 353.2 298.7 353.3C301 353.4 303.7 354.1 305.7 354.6C307.7 355.1 310.7 356.1 311.7 356.4M305.7 358.5C306.5 356.8 308.3 351.3 310.4 348.1C312.4 344.9 315.5 341.4 318.2 339C320.9 336.6 324.7 334.2 327.3 333.3C329.9 332.4 333.5 333.4 335.6 333C337.8 332.5 340.3 332 341.7 330.4C343.1 328.7 344.5 324.7 345.2 321.7C345.9 318.6 345.3 314.7 346 311.3C346.8 307.8 348.1 303.9 349.5 300.8C350.9 297.8 352.9 294.9 354.7 292.2C356.6 289.4 359 286.1 360.8 284.3C362.6 282.6 365 281.3 366.9 280C368.7 278.7 371.5 276.6 372.4 275.9M305.7 417.1C305.2 415.6 302 410.6 302.6 408C303.1 405.4 306.6 403.3 309.1 401.5C311.5 399.7 315.1 397.7 318.2 396.3C321.3 394.9 327.8 392.9 327.8 392.9C327.8 392.9 325.3 390.1 324.3 388.5C323.4 386.9 321.4 383.5 320.9 380.7C320.4 378 320.8 374.9 321.4 372C322 369.2 323 366.1 324.3 363.4C325.6 360.6 327.6 357 329.6 354.7C331.5 352.3 334.1 350 336.5 348.6C338.9 347.2 341.6 346.5 344.3 346C347 345.5 351.1 345.6 352.5 345.5M364.8 299.1C364.7 297.7 364.4 292.7 364.3 290.4C364.2 288.1 364.1 284.7 364.3 283.5C364.4 282.3 365.7 280.7 365.5 280C365.3 279.3 363.3 279.9 363.3 279.1C363.2 278.3 363.5 272.6 365.1 270C366.7 267.4 370.1 265.4 372.9 263.4C375.7 261.5 380.2 260.3 382 258.2C383.8 256.2 384.3 253.2 384.6 250.4C384.9 247.7 382.3 243.1 383.8 240C385.4 236.9 390.6 234.8 393.7 232C396.9 229.1 399.7 225.4 402.9 222.9C406 220.3 410.4 217.7 413.3 216.3C416.1 215 420.9 214.2 422.4 213.7M364.8 358.1C364.4 357 363.1 353.6 362.5 351.2C361.9 348.8 361.1 345.5 360.8 342.5C360.5 339.6 360.5 335.1 360.8 332.1C361.2 329.1 361.9 326 363.1 323.4C364.2 320.9 366 318.3 367.8 316.5C369.5 314.7 372 313.1 373.8 312.1C375.7 311.2 378.7 311.3 379.9 310.4C381.1 309.4 381.4 307.6 381.6 306C381.9 304.5 381.6 300.3 381.6 297.4C381.7 294.5 381.6 291.5 382.2 288.7C382.7 285.8 383.9 282.3 385.1 280C386.3 277.7 388.3 275.9 389.8 273.9C391.4 271.8 395.2 266.2 397.6 263.4C400 260.6 402.9 257.6 405.5 255.6C408.1 253.7 412.6 251.7 414.1 250.9M365.2 476C364.3 474.7 361.3 471 360 468.1C358.7 465.3 357.6 462.1 357.4 459C357.1 456 357.9 452.3 358.7 449.9C359.5 447.5 360.8 445 362.6 443.4C364.3 441.8 369.1 440.3 369.1 440.3C369.1 440.3 366.4 438.1 365.2 436.9C363.9 435.7 360.6 432.8 358.7 430.4C356.7 428 354.7 425.4 353.4 422.6C352.1 419.7 351.1 415.6 350.3 412.1C349.5 408.7 348.8 405.2 348.8 401.7C348.8 398.2 349.6 392.7 350.3 390C351 387.3 352.5 384.9 353.9 382.5C355.2 380 357.2 376.9 358.6 374.8C359.9 372.7 361.4 369.8 362.5 368.6C363.7 367.3 365.7 366.8 366.9 366C368.1 365.2 370.1 364.4 370.4 363.4C370.7 362.3 369.2 361 368.6 359.9C368 358.7 366.8 356.5 366 354.7C365.3 352.9 363.9 350.2 363.4 347.7C362.9 345.3 362.5 340.2 362.5 337.3C362.5 334.4 362.8 331.5 363.4 328.6C364 325.8 364.9 322.4 366 319.9C367.1 317.4 368.8 315.2 370.4 313C371.9 310.7 373.9 308.1 375.6 306C377.2 304 379.1 301.9 380.8 300C382.5 298 385.1 295.2 386 294.2M365.2 416.8C364.3 415.6 361.2 412.2 360 409.5C358.7 406.8 358 403.5 357.4 400.4C356.7 397.3 356.1 392 356 390C356 388 356.5 386.1 356.8 384.2C357.1 382.3 358.3 376.4 358.6 374.8M424.2 358.1C423.6 357 421.5 353.7 420.7 351.2C420 348.7 419.1 344.3 419 340.8C418.8 337.3 419.3 333.3 419.9 330.4C420.4 327.4 421.2 324 422.5 321.7C423.7 319.3 425.7 317 427.7 315.6C429.7 314.2 432.9 313.5 434.6 313C436.4 312.5 438.4 312.1 440 312.1C441.6 312.1 443.7 314.1 444.7 312.9C445.8 311.7 447.4 306 448.7 302.5C450 299 450.9 295.4 452.6 292.1C454.2 288.8 456.5 284.9 459.1 281.7C461.7 278.5 465.9 274.2 469.5 271.3C473.1 268.3 480 264.2 481.2 263.4C482.4 262.7 483.8 262.2 485.1 261.6C486.3 261.1 491.3 259 492.6 258.4M424.2 358.1C423.5 357 420.9 353.7 419.9 351.2C418.8 348.7 417.5 344.4 417.3 340.8C417 337.2 417.5 332.6 418.1 328.6C418.7 324.6 419.8 320 420.7 316.5C421.7 312.9 422.9 308.6 424.2 306C425.5 303.5 427.8 301 429.4 299.1C431 297.2 433.2 295.1 434.6 293.9C436 292.6 438.2 291 439 290.4M424.3 416.8C423.1 415.6 419.3 412.2 417.3 409.5C415.2 406.8 413.4 403.7 412.1 400.4C410.8 397.2 409.9 391.9 409.5 390C409 388.1 408.6 386.2 408.6 384.2C408.5 382.2 408.3 378.4 408.9 375.5C409.5 372.7 410.8 368.7 412 366.8C413.3 364.9 415.4 363.8 417.3 362.5C419.1 361.2 423 358.9 424.2 358.1M424.2 299.1C424.3 297.9 424.5 294.4 425.1 292.2C425.6 289.9 426.9 287 427.7 285.2C428.4 283.4 429.4 281.7 430.3 280C431.2 278.3 433 272.5 435.6 270C438.3 267.4 442.3 265.8 446 264.7C449.8 263.7 456.9 263.5 461.7 262.9C466.5 262.4 473.1 262.8 476 261.4C478.9 259.9 479.5 255.7 481.2 253C482.9 250.4 484.9 247.1 486.4 245.2C488 243.3 490.3 241.3 491.6 240C493 238.7 494.2 237.2 495.5 235.9C496.9 234.6 502.6 229.5 506 226.8C509.3 224.1 513.8 221 516.4 219C518.9 216.9 522.5 213.6 523.7 212.5M483.1 239.6C484.6 238.7 489.7 236 492.1 234.4C494.5 232.8 497.4 230.7 499 229.2C500.7 227.7 502.4 225.4 503.4 224C504.4 222.6 504.8 220.8 506 219.6C507.2 218.5 509.3 217.1 511.2 216.2C513.1 215.2 516.3 214.1 518.1 213.6C520 213 522.9 212.6 523.9 212.4M423.9 239.8C425.9 237.4 432.4 229.2 435.6 225.5C438.9 221.8 442.9 217.7 446 215.1C449.2 212.5 452.8 210.3 456.5 208.6C460.2 206.8 465.6 206.2 468.2 204.7C470.7 203.2 473.1 200.9 474.2 198.1C475.2 195.4 475 191.2 474.7 187.7C474.4 184.3 473.3 178.4 472.1 174.7C470.9 171 468.8 167.3 466.9 164.3C465 161.3 461.5 157.3 460.4 155.9M460.4 155.9C458 155.2 449.7 152.7 446 151.3C442.4 149.8 438.4 147.5 435.6 146C432.8 144.6 428.7 142.1 427.3 141.4M483.3 180.7C483.2 179.5 483.6 175.6 482.5 173.4C481.5 171.2 478.5 167.9 476 165.6C473.5 163.3 468.9 160.3 466.9 159.1C464.8 157.8 461.5 156.5 460.4 155.9M542.4 180.7C541.6 179 539.3 173.9 537.2 170.8C535.1 167.7 532.4 164.3 529.4 161.7C526.4 159.1 522.3 156.6 519 155.2C515.7 153.7 511.4 152.8 508.6 152.6C505.7 152.3 501.4 153.2 500 153.3M500 153.3C497.9 152.3 492 148.8 487.7 147.4C483.4 145.9 476.6 144.9 472.1 144C467.6 143 460.8 141.8 458.6 141.4M500 153.3C501 154.3 504.1 157 506 159.1C507.8 161.1 511.4 165 513.8 168.2C516.2 171.4 519.5 176.2 521.6 179.9C523.7 183.7 525.5 187.8 526.8 191.6C528.1 195.4 529.9 199.9 529.4 203.4C528.9 206.8 524.6 211 523.7 212.5M542.4 239.8C543.5 239 547.7 236.1 548.9 234.6C550.2 233.2 551.7 231.3 551.5 229.4C551.4 227.5 548.7 223.4 547.6 220.3C546.6 217.2 545 213 545 209.9C545 206.7 546.8 203.8 547.6 200.8C548.5 197.7 550.2 193.9 550.2 190.3C550.2 186.8 549.3 182.3 547.6 178.6C546 175 542.7 170.6 539.8 166.9C536.9 163.2 533.3 158.6 529.4 155.2C525.5 151.7 520.3 148.2 516.4 146C512.5 143.9 506 142.1 503.9 141.4M483.2 298.9C484.1 298.3 487 296.7 488.8 295.5C490.7 294.3 492.7 293.1 494.5 291.7C496.2 290.3 497.8 287.9 499.2 287C500.5 286.2 502.2 285.7 503.9 285.7C505.5 285.7 508.3 286.4 510.4 287C512.6 287.7 514.9 288.9 517 289.9C519.2 290.8 521.4 292.4 523.6 293.1C525.9 293.7 529.4 293.7 530.6 293.8M483.2 358C483.8 357 486 354 486.9 351.9C487.9 349.9 488.4 347.6 488.8 345.4C489.3 343.1 489.4 339.6 489.8 337.8C490.2 336 490.8 333.5 491.6 332.6C492.5 331.6 494.1 331.5 495.4 331.6C496.7 331.7 499.2 332.4 501 333.1C502.9 333.8 505.4 335.3 506.7 335.9C507.9 336.6 510.4 337.8 510.4 337.8C510.4 337.8 509.1 333.5 508.6 331.2C508 329 507 325.3 506.7 322.8C506.4 320.3 506.4 317.7 506.7 315.3C507 312.8 507.6 310.1 508.6 307.7C509.5 305.4 510.8 303.1 512.3 301.1C513.9 299.2 516.3 297 518 296.1C519.7 295.1 522.4 294.4 523.6 294.6C524.8 294.8 525.8 296.3 526.1 297.4C526.4 298.5 526.1 300.3 525.5 301.1C524.9 302 523.3 302.8 522.3 302.6C521.3 302.5 519.9 301.3 519.3 300.2C518.7 299.1 518.3 297.1 518.5 295.5C518.7 293.9 519.8 290.3 520.8 288C521.8 285.6 523.1 283.4 524.6 281.4C526 279.3 528 276.7 530.2 274.8C532.4 272.9 535.4 271.2 537.7 270.1C540.1 269 543.4 268.3 545.3 267.8C547.1 267.4 550 266.9 550.9 266.7M542.4 298.9C543.2 298.9 545.6 299.1 547.1 299.3C548.7 299.4 551.4 299.7 551.8 299.8C552.3 300 552.4 301.1 552.4 301.1C552.4 301.1 552.5 299.5 553.2 299.3C553.8 299.1 558.1 298.9 560.3 298.7C562.5 298.5 565.6 298.2 566.9 297.9C568.2 297.7 570.7 296.4 570.7 296.4C570.7 296.4 568.8 295.2 567.8 294.6C566.9 294 564.3 292.8 563.1 291.7C561.9 290.7 560.8 289.5 560.3 288C559.8 286.5 559.5 284.2 559.9 282.3C560.3 280.5 561.7 277.2 563.1 274.8C564.5 272.5 566.8 269.7 568.8 267.3C570.7 264.8 573 262.1 575.4 259.8C577.7 257.4 582.9 253 584.4 251.7M542.4 358C542.9 357.4 544.5 355.8 545.3 354.8C546 353.7 546.1 352.1 547.1 351.4C548.2 350.7 552.2 350.1 552.2 350.1C552.2 350.1 549.4 351.2 548.1 351C546.8 350.8 545.1 350 544.3 348.7C543.5 347.5 543.3 345.3 543 343.5C542.7 341.7 542.3 338.5 542.4 335.9C542.6 333.4 543 330.8 543.7 328.4C544.5 326.1 545.9 323.3 547.1 321.8C548.4 320.3 551.1 319 551.8 318.5M483 416.5C483 414.7 482.9 409.5 483 406C483.1 402.6 483.1 397.9 483.5 395.6C484 393.3 485 390.5 486.2 389.1C487.3 387.7 489.2 387.2 490.8 386.5C492.5 385.9 496.3 385 497.4 384.7M497.4 384.7 L502.8 379.1M483.5 475.1C483.9 473.6 485.6 466 485.6 466C485.6 466 485.5 470 485.5 470C485.5 470 486.4 465 486.9 462.6C487.4 460.2 488 457.3 488.4 455.4C488.7 453.5 489 450.6 489.1 449.6C489.2 448.6 489.1 447.6 489.2 446.7C489.3 445.8 489.3 444.5 489.5 444.1C489.7 443.6 490.4 443.3 490.8 443.4C491.2 443.4 491.8 443.9 492.1 444.4C492.4 444.9 492.5 445.7 492.4 446.3C492.3 446.8 491.8 447.4 491.4 447.6C491 447.7 490.3 447.4 489.9 447C489.6 446.6 489.3 445.4 489.1 444.5C488.9 443.7 488.6 442.1 488.5 440.9C488.4 439.7 488.2 438 488.4 436.6C488.5 435.1 489 432.7 489.4 430.8C489.7 428.8 490.4 426 490.5 423.5C490.6 421.1 490.4 416.8 490.2 413.4C490.1 410 489.9 406.2 489.8 403.3C489.7 400.4 489.7 396.3 489.8 394.6C489.9 392.9 490.3 390.7 490.8 389.5C491.3 388.4 492.4 387.4 493.4 386.6C494.5 385.9 496.8 385.1 497.5 384.8M483.5 535C485.4 533.5 492.2 529 494.7 525.9C497.3 522.7 498.9 516.7 500 514.8C501.1 512.9 503 511.5 504.3 509.7C505.7 507.9 506.9 506 508 503.9C509 501.9 510.2 499.1 510.9 496.7C511.5 494.3 511.9 490.1 511.9 489.5C511.9 488.9 511.4 487.9 510.9 488C510.3 488.2 506.5 490.9 506.5 490.9C506.5 490.9 505.9 488 505.8 486.6C505.7 485.1 505.5 480.8 505.5 477.9C505.5 475 505.7 468.2 505.8 463.4C505.9 458.6 506.1 453.8 506.1 448.9C506 444.1 505.8 438.3 505.5 434.5C505.2 430.6 504.3 424.1 504.3 422.9C504.4 421.7 506.2 420.5 506.5 420M424.3 535.1C425.9 534.8 431.5 533.9 434.2 533.3C436.9 532.6 440.5 531.8 442 530.7C443.6 529.5 444.1 527.3 444.6 525.5C445.2 523.6 446 519.6 445.9 517.6C445.8 515.6 444.1 511.9 444.1 511.9C444.1 511.9 447.1 511.5 448.5 511.9C449.9 512.3 452.4 514.9 453.7 514.5C455 514.2 455.8 511.5 456.3 509.8C456.9 508.1 457.5 505.5 457.1 503.3C456.7 501.2 455.2 498.7 453.7 496.8C452.3 494.9 449.1 492.4 447.2 490.3C445.4 488.2 443.5 485.1 442 483.8C440.6 482.5 438.7 481.3 436.8 481.2C434.9 481 430.5 482.5 429.2 482.7M365.2 535.1C366.3 535 370 534.1 371.7 534.6C373.3 535 374.5 537.8 375.6 538C376.7 538.1 377 535.4 378.2 535.4C379.4 535.3 384.3 536.3 387.3 537.2C390.3 538.1 394.3 539.8 397.7 541.1C401.2 542.4 406 544.4 408.1 545C410.3 545.6 413.3 545.9 414.7 545.8C416 545.6 417.6 544.8 418 543.7C418.5 542.6 417.6 540 417.5 539.3M409.5 535.2C409.9 535.8 411.1 537.6 412.1 538.7C413 539.8 414.3 541.1 415 541.8C415.7 542.6 416.9 543.6 417.3 543.9M424.3 476C424.3 474.2 424.4 469 424.3 465.5C424.2 462.1 424 456.9 423.8 453.8C423.5 450.8 423.8 446.9 422.5 444.7C421.2 442.5 417.8 442.6 416 440.8C414.2 439 411.4 434.9 409.5 431.7C407.5 428.5 405.7 424.7 404.2 421.3C402.8 417.9 401.6 414.3 400.3 410.8C399 407.4 397.5 404 396.4 400.4C395.3 396.9 394.3 392.3 393.8 389.4C393.3 386.5 393.3 382.5 392.9 380.7C392.6 378.9 392.1 376.5 391.2 375.5C390.3 374.5 387.9 374.9 387.2 374.8M187.4 476C188.7 475.5 193.2 474.9 195.2 473.4C197.1 471.8 197.9 469.1 199.1 466.8C200.2 464.6 202.2 459.5 203 457.7C203.8 456 204.3 454 205.6 452.5C206.9 451.1 209.9 448.9 212.1 447.3C214.3 445.7 217.8 443.3 219.9 442.1C222 440.9 224.3 439.5 226.4 439C228.5 438.4 231.9 438.8 232.9 438.7M246.5 476C246.8 474.4 247.7 469.8 248.6 466.8C249.4 463.8 251.8 459.2 252.5 455.1C253.1 451.1 252.2 446.4 252.5 442.1C252.8 437.8 253.6 431.8 254.3 429.1C255 426.3 256.4 422.9 257.7 421.3C258.9 419.7 261.6 418.4 262.9 418.1C264.2 417.8 266.2 419 266.8 419.2M305.9 476C304.8 475.3 301.1 473.8 299.4 472.1C297.6 470.3 296.2 467.6 295.5 465.5C294.8 463.5 294.3 461 294.9 459C295.6 457.1 297.3 454.8 299.4 453.8C301.4 452.8 309.8 451.7 309.8 451.7C309.8 451.7 307.4 447.8 305.9 446C304.4 444.2 302 442.9 300.7 440.8C299.3 438.7 298 435.8 297.5 433C297.1 430.2 297.4 425.9 298.1 423.9C298.7 421.8 300.9 419.6 302 418.7C303 417.7 304.5 417.2 305.9 416.8C307.3 416.4 312.8 415.5 314.2 415.3M246.5 535.1C246.4 533.9 245.4 530.4 246 528.1C246.5 525.8 249.2 521.9 249.9 520.2C250.5 518.6 249.9 515.7 251.2 515C252.5 514.4 256.4 516 257.7 516.3C259 516.7 261.6 517.6 261.6 517.6C261.6 517.6 262.9 512.4 262.9 509.8C262.9 507.2 262.4 504 261.6 502C260.8 500 258.5 498.4 257.7 496.8C256.9 495.2 257.4 492.9 256.4 491.6C255.4 490.3 252.5 489.4 251.7 489M305.7 535C306 534.3 307.1 532.4 307.2 530.9C307.3 529.5 306.3 527.6 306 526.3C305.8 525 305.2 523.2 305.5 522.3C305.7 521.3 306.8 520.6 307.8 520.5C308.7 520.4 310.2 521.1 311.3 521.7C312.3 522.3 313.6 523.6 314.7 524.6C315.8 525.6 317.3 527.1 318.2 528C319.1 529 320.3 530 321.1 530.7C321.9 531.4 323.2 532.3 323.6 532.7M317.6 526.9C317.8 526.1 318.4 523.4 318.6 522.3C318.7 521.1 318.8 519.6 318.6 518.8C318.3 518 317.4 517.4 316.8 517C316.2 516.7 315.3 516.7 314.7 516.6C314.2 516.5 313.3 516.5 313 516.5" stroke="#ff00ff" stroke-width="1.1" fill="none" stroke-linejoin="round" stroke-linecap="round"/>
<g fill="#ff0000"><circle cx="191.2" cy="129.1" r="3"/><circle cx="238.1" cy="136.1" r="3"/><circle cx="320.3" cy="115.8" r="3"/><circle cx="186" cy="181.7" r="3"/><circle cx="230.2" cy="185.3" r="3"/><circle cx="248.5" cy="244.7" r="3"/><circle cx="321" cy="173.6" r="3"/><circle cx="363.7" cy="112.7" r="3"/><circle cx="365.8" cy="176.5" r="3"/><circle cx="392.2" cy="145.7" r="3"/><circle cx="402.9" cy="140" r="3"/><circle cx="412.5" cy="184.6" r="3"/><circle cx="335.6" cy="244.7" r="3"/><circle cx="336.5" cy="289.6" r="3"/><circle cx="370.3" cy="230.1" r="3"/><circle cx="262.3" cy="315.5" r="3"/><circle cx="311.7" cy="356.4" r="3"/><circle cx="372.4" cy="275.9" r="3"/><circle cx="352.5" cy="345.5" r="3"/><circle cx="422.4" cy="213.7" r="3"/><circle cx="414.1" cy="250.9" r="3"/><circle cx="386" cy="294.2" r="3"/><circle cx="358.6" cy="374.8" r="3"/><circle cx="492.6" cy="258.4" r="3"/><circle cx="439" cy="290.4" r="3"/><circle cx="523.7" cy="212.5" r="3"/><circle cx="460.4" cy="155.9" r="3"/><circle cx="500" cy="153.3" r="3"/><circle cx="530.6" cy="293.8" r="3"/><circle cx="550.9" cy="266.7" r="3"/><circle cx="584.4" cy="251.7" r="3"/><circle cx="551.8" cy="318.5" r="3"/><circle cx="497.4" cy="384.7" r="3"/><circle cx="506.5" cy="420" r="3"/><circle cx="429.2" cy="482.7" r="3"/><circle cx="417.5" cy="539.3" r="3"/><circle cx="387.2" cy="374.8" r="3"/><circle cx="232.9" cy="438.7" r="3"/><circle cx="266.8" cy="419.2" r="3"/><circle cx="314.2" cy="415.3" r="3"/><circle cx="251.7" cy="489" r="3"/><circle cx="313" cy="516.5" r="3"/></g>
<path d="M64.5 57.5H678.5V676.5H64.5ZM71.5 63.5V670.5H672.5V63.5Z" fill="#fff" fill-rule="evenodd"/>
<path d="M64.5 57.5H678.5V676.5H64.5ZM71.5 63.5H672.5V670.5H71.5ZM64.5 57.5L71.5 63.5M678.5 57.5L672.5 63.5M64.5 676.5L71.5 670.5M678.5 676.5L672.5 670.5" fill="none" stroke="#929292" stroke-width="1"/>
<path d="M108.5 60.5H152.5M211 60.5H269.5M327.7 60.5H386.3M445 60.5H503.5M562 60.5H620.5M650 60.5H672.5M71.5 673.5H108.5M152.5 673.5H211M269.5 673.5H327.7M386.3 673.5H445M503.5 673.5H562M620.5 673.5H650M675.5 63.5V75M675.5 94.4V155.5M675.5 216.4V276.6M675.5 337.5V398M675.5 458.5V520M675.5 580.5V628" fill="none" stroke="#4a4a4a" stroke-width="1"/>
<path d="M68.2 75V94.4M68.2 155.5V216.4M68.2 276.6V337.5M68.2 398V458.5M68.2 520V580.5M68.2 628V670.5" fill="none" stroke="#b6b6b6" stroke-width="2"/>
<path d="M108.5 57.5V63.5M152.5 57.5V63.5M211 57.5V63.5M269.5 57.5V63.5M327.7 57.5V63.5M386.3 57.5V63.5M445 57.5V63.5M503.5 57.5V63.5M562 57.5V63.5M620.5 57.5V63.5M650 57.5V63.5M672.5 57.5V63.5M71.5 676.5V670.5M108.5 676.5V670.5M152.5 676.5V670.5M211 676.5V670.5M269.5 676.5V670.5M327.7 676.5V670.5M386.3 676.5V670.5M445 676.5V670.5M503.5 676.5V670.5M562 676.5V670.5M620.5 676.5V670.5M650 676.5V670.5M64.5 75H71.5M64.5 94.4H71.5M64.5 155.5H71.5M64.5 216.4H71.5M64.5 276.6H71.5M64.5 337.5H71.5M64.5 398H71.5M64.5 458.5H71.5M64.5 520H71.5M64.5 580.5H71.5M64.5 628H71.5M64.5 670.5H71.5M678.5 63.5H672.5M678.5 75H672.5M678.5 94.4H672.5M678.5 155.5H672.5M678.5 216.4H672.5M678.5 276.6H672.5M678.5 337.5H672.5M678.5 398H672.5M678.5 458.5H672.5M678.5 520H672.5M678.5 580.5H672.5M678.5 628H672.5" fill="none" stroke="#777" stroke-width="0.8"/>
<path d="M152.5 51V57.5M152.5 676.5V683M269.5 51V57.5M269.5 676.5V683M386.3 51V57.5M386.3 676.5V683M503.5 51V57.5M503.5 676.5V683M620.5 51V57.5M620.5 676.5V683M58 94.1H64.5M678.5 94.1H685M58 216.1H64.5M678.5 216.1H685M58 337.2H64.5M678.5 337.2H685M58 458.2H64.5M678.5 458.2H685M58 580.2H64.5M678.5 580.2H685" fill="none" stroke="#000" stroke-width="2"/>
<text x="224.6" y="24" font-size="19.6" textLength="298.6" lengthAdjust="spacingAndGlyphs">MNTY: From 20−Mar−2011 15:00</text>
<text x="246" y="47.8" font-size="19.6" textLength="250.5" lengthAdjust="spacingAndGlyphs">to 21−Mar−2011 15:00 GMT</text>
<text x="13.5" y="101.8" font-size="16.7">37</text><text x="33.2" y="93.2" font-size="12">o</text><text x="41" y="101.8" font-size="16.7">N</text>
<text x="56.9" y="221.2" font-size="14" text-anchor="end">50'</text>
<text x="56.9" y="342.3" font-size="14" text-anchor="end">40'</text>
<text x="56.9" y="463.3" font-size="14" text-anchor="end">30'</text>
<text x="56.9" y="585.3" font-size="14" text-anchor="end">20'</text>
<text x="153.7" y="695" font-size="14" text-anchor="middle">36'</text>
<text x="270.7" y="695" font-size="14" text-anchor="middle">24'</text>
<text x="387.5" y="695" font-size="14" text-anchor="middle">12'</text>
<text x="621.7" y="695" font-size="14" text-anchor="middle">48'</text>
<text x="477" y="704.3" font-size="16.7">122</text><text x="506" y="695" font-size="12">o</text><text x="514" y="704.3" font-size="16.7">W</text>
<path d="M575.5 451.5H641M575.5 445.2V457.8M641 445.2V457.8" stroke="#000" stroke-width="2" fill="none"/>
<text x="586.6" y="447.8" font-size="15.6" font-weight="bold" textLength="44.4" lengthAdjust="spacingAndGlyphs">10 km</text>
</svg></body></html>
